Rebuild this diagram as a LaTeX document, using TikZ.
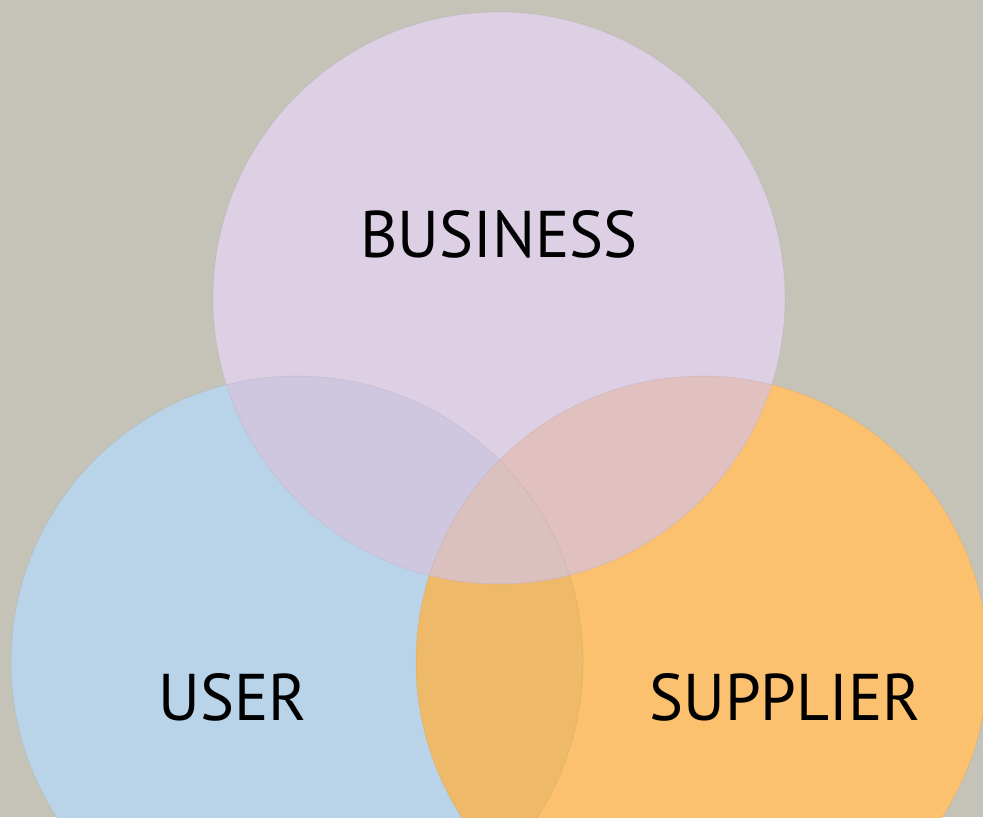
\documentclass[tikz,border=0pt]{standalone}
\usepackage{fontspec}
\setmainfont{PT Sans}
\definecolor{bg}{HTML}{C5C2B8}
\definecolor{cuser}{HTML}{B9D4E9}
\definecolor{csup}{HTML}{FCC16E}
\definecolor{cbus}{HTML}{DDD0E4}
\definecolor{cus}{HTML}{EEBA6A}
\definecolor{cub}{HTML}{CFC7DF}
\definecolor{cbs}{HTML}{E0C1BF}
\definecolor{call}{HTML}{DBC0C0}
\tikzset{lbl/.style={font=\fontsize{66}{70}\selectfont, text=black, anchor=base, inner sep=0pt, xscale=0.97},
edge/.style={draw=black, draw opacity=0.04, line width=1pt}}
\begin{document}
\begin{tikzpicture}[x=1pt,y=-1pt]
\fill[bg] (0,0) rectangle (983,817);
\useasboundingbox (0,0) rectangle (983,817);
\begin{scope}
\clip (0,0) rectangle (983,817);
\def\ucirc{(297,662) circle[radius=286]}
\def\scirc{(702,662) circle[radius=286]}
\def\bcirc{(499,298) circle[radius=286]}
\fill[cuser] \ucirc;
\fill[csup] \scirc;
\fill[cbus] \bcirc;
\begin{scope}\clip \ucirc; \fill[cus] \scirc; \end{scope}
\begin{scope}\clip \ucirc; \fill[cub] \bcirc; \end{scope}
\begin{scope}\clip \bcirc; \fill[cbs] \scirc; \end{scope}
\begin{scope}\clip \ucirc; \clip \scirc; \fill[call] \bcirc; \end{scope}
\draw[edge] \ucirc; \draw[edge] \scirc; \draw[edge] \bcirc;
\end{scope}
\node[lbl] (bus) at (499,257) {BUSINESS};
\node[lbl] (usr) at (233,720) {USER};
\node[lbl] (sup) at (785,720) {SUPPLIER};
\end{tikzpicture}
\end{document}
